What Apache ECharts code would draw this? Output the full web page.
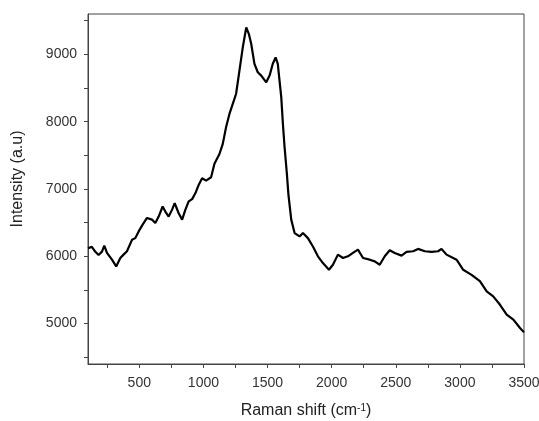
<!DOCTYPE html>
<html>
<head>
<meta charset="utf-8">
<script src="https://cdn.jsdelivr.net/npm/echarts@6/dist/echarts.min.js"></script>
<style>html,body{margin:0;padding:0;background:#fff;}#c{width:539px;height:421px;}</style>
</head>
<body>
<div id="c"></div>
<script>
const ramanShift = [100,130,156,182,209,227,248,287,320,352,377,404,443,469,495,526,560,599,625,651,682,703,729,755,776,807,834,859,885,912,938,963,990,1021,1060,1086,1125,1151,1177,1203,1229,1255,1281,1307,1334,1354,1373,1398,1424,1451,1490,1516,1541,1563,1580,1607,1620,1633,1651,1663,1685,1711,1750,1776,1815,1854,1893,1932,1979,2010,2049,2088,2127,2166,2205,2245,2297,2336,2375,2414,2453,2492,2545,2584,2635,2674,2727,2779,2830,2857,2896,2909,2974,3026,3091,3156,3209,3260,3313,3365,3417,3469,3500];
const intensity = [6120,6140,6070,6020,6070,6160,6050,5950,5850,5975,6025,6075,6245,6270,6370,6470,6570,6545,6495,6590,6740,6665,6590,6690,6790,6640,6545,6690,6815,6850,6940,7060,7160,7125,7175,7375,7520,7670,7920,8115,8265,8415,8760,9105,9400,9305,9155,8860,8735,8685,8585,8685,8860,8955,8860,8365,7965,7620,7225,6915,6545,6345,6295,6345,6270,6145,6000,5900,5800,5875,6025,5975,6000,6050,6100,5975,5950,5925,5875,6000,6090,6050,6010,6065,6075,6110,6075,6065,6075,6110,6025,6000,5950,5800,5725,5630,5480,5405,5280,5135,5060,4935,4870];
const xLabels = [500,1000,1500,2000,2500,3000,3500];
const xTicks = [250,500,750,1000,1250,1500,1750,2000,2250,2500,2750,3000,3250,3500];
const yLabels = [5000,6000,7000,8000,9000];
const yTicks = [4500,5000,5500,6000,6500,7000,7500,8000,8500,9000,9500];

const data = ramanShift.map((x, i) => [x, intensity[i]]);
const font = 'Liberation Sans, Arial, sans-serif';
const plain = v => String(v);
const chart = echarts.init(document.getElementById('c'));
chart.setOption({
  animation: false,
  backgroundColor: '#fff',
  grid: {left: 88, right: 15, top: 14, bottom: 57, containLabel: false, outerBoundsMode: 'none',
         show: true, borderColor: '#444', borderWidth: 1},
  xAxis: {
    type: 'value', min: 100, max: 3500,
    name: 'Raman shift (cm{sup|-1})', nameLocation: 'middle', nameGap: 39,
    nameTextStyle: {fontFamily: font, fontSize: 16, color: '#222',
      rich: {sup: {fontFamily: font, fontSize: 10, color: '#222', verticalAlign: 'top', padding: [0,0,6,0]}}},
    axisLine: {show: true, onZero: false, lineStyle: {color: '#444', width: 1}},
    axisTick: {show: true, inside: false, length: 4, customValues: xTicks, lineStyle: {color: '#444'}},
    axisLabel: {customValues: xLabels, formatter: plain, fontFamily: font, fontSize: 14, color: '#333', margin: 12},
    splitLine: {show: false}
  },
  yAxis: {
    type: 'value', min: 4400, max: 9600,
    name: 'Intensity (a.u)', nameLocation: 'middle', nameGap: 62,
    nameTextStyle: {fontFamily: font, fontSize: 16, color: '#222', padding: [0,0,0,20]},
    axisLine: {show: true, onZero: false, lineStyle: {color: '#444', width: 1}},
    axisTick: {show: true, inside: false, length: 4, customValues: yTicks, lineStyle: {color: '#444'}},
    axisLabel: {customValues: yLabels, formatter: plain, fontFamily: font, fontSize: 14, color: '#333', margin: 11},
    splitLine: {show: false}
  },
  series: [{
    type: 'line', data: data, showSymbol: false, symbol: 'none',
    lineStyle: {color: '#000', width: 2.2}, silent: true
  }]
});
</script>
</body>
</html>
